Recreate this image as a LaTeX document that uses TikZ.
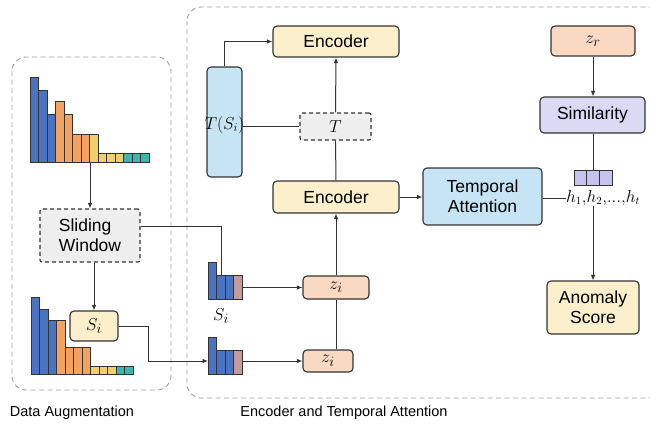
\documentclass[tikz,border=0pt]{standalone}
\usepackage{fontspec}
\setmainfont{Liberation Sans}
\usetikzlibrary{arrows.meta}
\definecolor{cblue}{HTML}{4A73C2}
\definecolor{corange}{HTML}{F4A261}
\definecolor{cyellow}{HTML}{F2CF6A}
\definecolor{cteal}{HTML}{3DB5B0}
\definecolor{cmauve}{HTML}{C49A9C}
\definecolor{boxyellow}{HTML}{FCEFCB}
\definecolor{boxblue}{HTML}{C6E4F4}
\definecolor{boxpeach}{HTML}{F9D9C1}
\definecolor{boxlav}{HTML}{DADAF4}
\definecolor{veclav}{HTML}{C4C4EE}
\definecolor{boxgray}{HTML}{EEEEEE}
\definecolor{edge}{HTML}{333333}
\definecolor{panel}{HTML}{A0A0A0}
\tikzset{
  box/.style={draw=edge, line width=1.1pt, rounded corners=4pt, inner sep=0pt,
    font=\fontsize{17.5}{20}\selectfont, align=center},
  dbox/.style={box, dashed, dash pattern=on 4pt off 3pt, rounded corners=2pt, fill=boxgray},
  conn/.style={draw=edge, line width=1pt},
  arr/.style={conn, -{Latex[length=5.5pt,width=4.5pt]}},
  panelbox/.style={draw=panel, line width=0.9pt, dash pattern=on 5pt off 3.5pt, rounded corners=14pt},
  bar/.style={draw=edge, line width=0.8pt},
  area/.style={inner sep=0pt, outer sep=0pt},
  mth/.style={font=\fontsize{19}{21}\selectfont},
  lab/.style={font=\fontsize{14.5}{16}\selectfont}
}
\begin{document}
\begin{tikzpicture}[x=1pt,y=-1pt]
\useasboundingbox (0,0) rectangle (650,428);
\fill[white] (0,0) rectangle (650,428);

% panels
\draw[panelbox] (12,57) rectangle (171,390);
\draw[panelbox] (187,7) rectangle (662,398);

% histogram 1
\node[area, minimum width=119pt, minimum height=85pt] (hist1) at (89.5,119.5) {};
\foreach \t/\c [count=\i from 0] in {77/cblue,90/cblue,114/cblue,101/corange,114/corange,134/corange,134/corange,134/cyellow,153/cyellow,153/cyellow,153/cyellow,153/cteal,153/cteal,153/cteal}
  \draw[bar, fill=\c] (30+8.5*\i,162) rectangle (38.5+8.5*\i,\t);

% histogram 3
\node[area, minimum width=102pt, minimum height=77pt] (hist3) at (82,335.5) {};
\foreach \t/\c [count=\i from 0] in {297/cblue,309/cblue,320/cblue,320/corange,347/corange,347/corange,347/corange,366/cyellow,366/cyellow,366/cyellow,366/cteal,366/cteal}
  \draw[bar, fill=\c] (31+8.5*\i,374) rectangle (39.5+8.5*\i,\t);

% small histograms
\node[area, minimum width=34pt, minimum height=37pt] (hs1) at (225,280.5) {};
\foreach \t/\c [count=\i from 0] in {262/cblue,275/cblue,275/cblue,275/cmauve}
  \draw[bar, fill=\c] (208+8.5*\i,299) rectangle (216.5+8.5*\i,\t);
\node[area, minimum width=34pt, minimum height=37pt] (hs2) at (225,355.5) {};
\foreach \t/\c [count=\i from 0] in {337/cblue,350/cblue,350/cblue,350/cmauve}
  \draw[bar, fill=\c] (208+8.5*\i,374) rectangle (216.5+8.5*\i,\t);
\coordinate (b2top) at (221,275);
\node[mth] (silab) at (221,316) {$S_i$};

% left panel boxes
\node[dbox, minimum width=100pt, minimum height=53pt, align=left] (sw) at (90,235.5) {Sliding\\Window};
\node[box, fill=boxyellow, minimum width=48pt, minimum height=30pt, mth] (si) at (94,326) {$S_i$};

% right panel boxes
\node[box, fill=boxyellow, minimum width=126pt, minimum height=31pt] (enc1) at (336,41.5) {Encoder};
\node[box, fill=boxblue, minimum width=35pt, minimum height=110pt] (ts) at (224.5,122) {};
\node[font=\fontsize{16.5}{18}\selectfont, inner sep=0pt] (tslab) at (224.5,125) {$T(S_i)$};
\node[dbox, minimum width=71pt, minimum height=27pt, mth] (tb) at (335.5,126.5) {$T$};
\node[box, fill=boxyellow, minimum width=126pt, minimum height=32pt] (enc2) at (336,197) {Encoder};
\node[box, fill=boxpeach, minimum width=66pt, minimum height=23pt, mth] (za) at (336,287.5) {$z_i$};
\node[box, fill=boxpeach, minimum width=50pt, minimum height=22pt, mth] (zb) at (328,361) {$z_i$};
\node[box, fill=boxblue, minimum width=119pt, minimum height=57pt] (ta) at (482.5,196.5) {Temporal\\Attention};
\node[box, fill=boxpeach, minimum width=84pt, minimum height=30pt, mth] (zr) at (593,41) {$z_r$};
\node[box, fill=boxlav, minimum width=105pt, minimum height=36pt] (sim) at (592.5,115) {Similarity};
\node[box, fill=boxyellow, minimum width=92pt, minimum height=53pt] (an) at (593,307.5) {Anomaly\\Score};

% vector
\node[draw=edge, line width=0.9pt, fill=veclav, minimum width=38pt, minimum height=15pt, inner sep=0pt] (vec) at (593,177.5) {};
\draw[edge, line width=0.9pt] (586.67,170) -- (586.67,185) (599.33,170) -- (599.33,185);
\node[font=\fontsize{16}{18}\selectfont, anchor=west, inner sep=0pt] (hlab) at (566,198) {$h_1{,}h_2{,}...{,}h_t$};
\coordinate (hbot) at (593,206);

% connectors
\draw[arr] (hist1.south -| sw.north) -- (sw.north);
\draw[arr] (sw.south -| si.north) -- (si.north);
\draw[conn] ([yshift=9.5pt]sw.east) -| (b2top);
\coordinate (bend) at (148,326);
\draw[arr] (si.east) -- (bend) |- (hs2.west |- zb.west);
\draw[arr] (hs1.east |- za.west) -- (za.west);
\draw[arr] (hs2.east |- zb.west) -- (zb.west);
\draw[conn] (zb.north -| za.south) -- (za.south);
\draw[arr] (za.north) -- (enc2.south);
\draw[conn] (enc2.north) -- (tb.south);
\draw[arr] (tb.north) -- (enc1.south);
\draw[conn] (ts.east |- tb.west) -- (tb.west);
\draw[arr] (ts.north) |- (enc1.west);
\draw[arr] (enc2.east) -- (enc2.east -| ta.west);
\draw[conn] (ta.east |- hlab.west) -- (hlab.west);
\draw[arr] (zr.south) -- (zr.south |- sim.north);
\draw[conn] (sim.south -| vec.north) -- (vec.north);
\draw[arr] (hbot) -- (hbot |- an.north);

% labels
\node[lab] (l1) at (72,413) {Data Augmentation};
\node[lab] (l2) at (344,413) {Encoder and Temporal Attention};
\end{tikzpicture}
\end{document}
